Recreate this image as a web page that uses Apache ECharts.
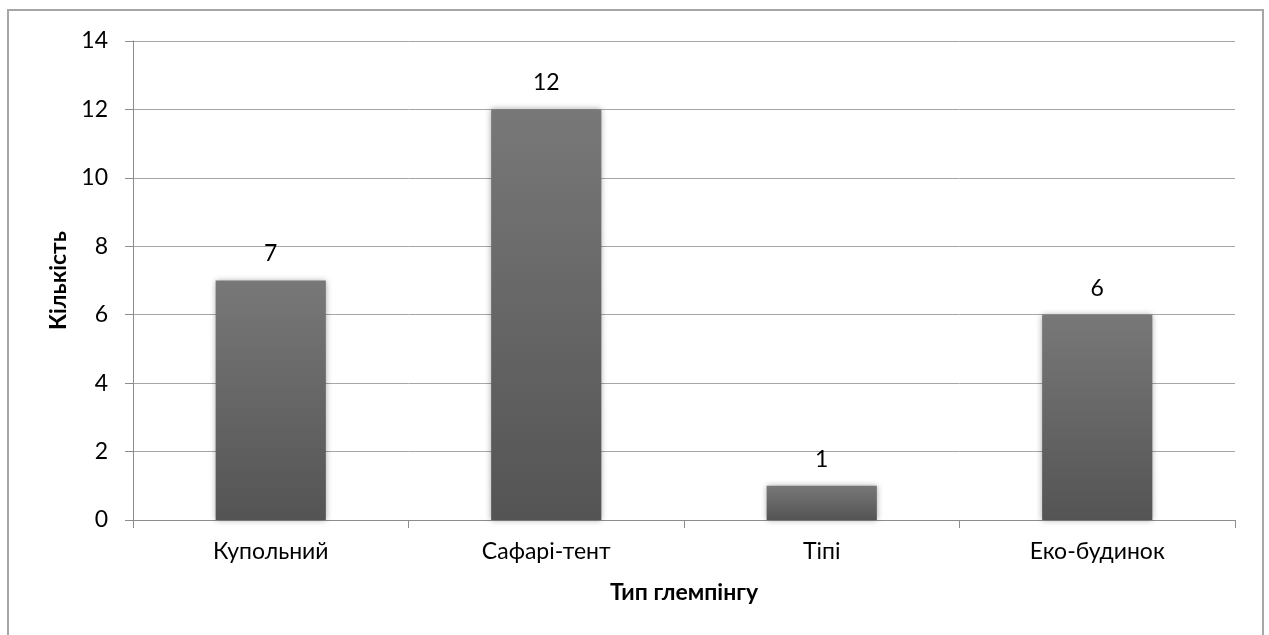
<!DOCTYPE html>
<html>
<head>
<meta charset="utf-8">
<style>
  html, body { margin: 0; padding: 0; background: #fff; }
  #chart { width: 1269px; height: 635px; }
</style>
<script src="https://cdn.jsdelivr.net/npm/echarts@6/dist/echarts.min.js"></script>
</head>
<body>
<div id="chart"></div>
<script>
// Glamping types and how many of each
const categories = ['Купольний', 'Сафарі-тент', 'Тіпі', 'Еко-будинок'];
const counts = [7, 12, 1, 6];
const yTicks = { min: 0, max: 14, interval: 2 };

const FONT = 'Lato, "Open Sans", sans-serif';

const chart = echarts.init(document.getElementById('chart'), null, { renderer: 'canvas' });

chart.setOption({
  backgroundColor: '#ffffff',
  animation: false,
  graphic: [{
    type: 'rect',
    shape: { x: 8, y: 10, width: 1255, height: 640 },
    style: { fill: 'none', stroke: '#a6a6a6', lineWidth: 2 },
    silent: true
  }],
  grid: { left: 133, right: 34, top: 41, bottom: 115 },
  xAxis: {
    type: 'category',
    data: categories,
    name: 'Тип глемпінгу',
    nameLocation: 'middle',
    nameGap: 61,
    nameTextStyle: { fontFamily: FONT, fontSize: 23, fontWeight: 'bold', color: '#000' },
    axisLine: { lineStyle: { color: '#8c8c8c', width: 1 } },
    axisTick: { show: true, length: 8, lineStyle: { color: '#8c8c8c' } },
    axisLabel: { fontFamily: FONT, fontSize: 23, color: '#000', margin: 20 }
  },
  yAxis: {
    type: 'value',
    min: yTicks.min,
    max: yTicks.max,
    interval: yTicks.interval,
    name: 'Кількість',
    nameLocation: 'middle',
    nameGap: 62,
    nameRotate: 90,
    nameTextStyle: { fontFamily: FONT, fontSize: 23, fontWeight: 'bold', color: '#000' },
    axisLine: { show: true, lineStyle: { color: '#8c8c8c', width: 1 } },
    axisTick: { show: true, length: 8, lineStyle: { color: '#8c8c8c' } },
    axisLabel: { fontFamily: FONT, fontSize: 23, color: '#000', margin: 25 },
    splitLine: { show: true, lineStyle: { color: '#a6a6a6', width: 1 } }
  },
  series: [{
    type: 'bar',
    data: counts,
    barWidth: '40%',
    itemStyle: {
      color: new echarts.graphic.LinearGradient(0, 0, 0, 1, [
        { offset: 0, color: '#787878' },
        { offset: 1, color: '#545454' }
      ]),
      shadowBlur: 6,
      shadowColor: 'rgba(0,0,0,0.35)'
    },
    label: {
      show: true,
      position: 'top',
      distance: 15,
      fontFamily: FONT,
      fontSize: 23,
      color: '#000'
    }
  }]
});
</script>
</body>
</html>
